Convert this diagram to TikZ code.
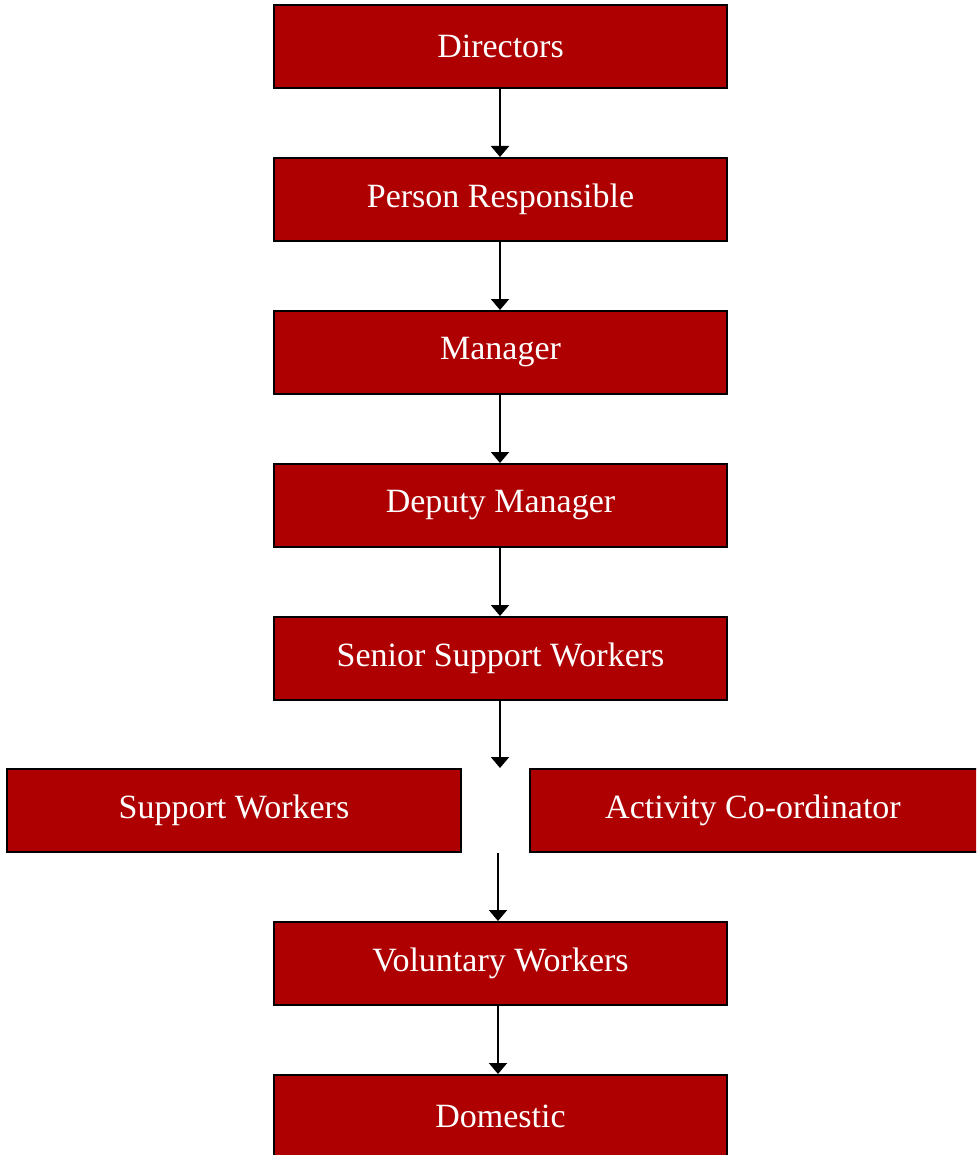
\documentclass[tikz,border=0pt]{standalone}
\usepackage{fontspec}
\setmainfont{Liberation Serif}
\usetikzlibrary{arrows.meta,positioning}
\definecolor{BoxRed}{HTML}{AE0000}

\begin{document}
\begin{tikzpicture}[x=1pt, y=-1pt,
    role/.style={draw=black, line width=2pt, fill=BoxRed, text=white, minimum width=453pt, minimum height=83pt, font=\fontsize{34}{40}\selectfont},
    link/.style={-{Triangle[length=11pt,width=18pt]}, line width=2pt}]
      \useasboundingbox (0,0) rectangle (976,1155);
      \clip (0,0) rectangle (976,1155);
      \node[role] (dir) at (500.5,46.5) {Directors};
      \node[role] (resp) at (500.5,199.5) {Person Responsible};
      \node[role] (mgr) at (500.5,352.5) {Manager};
      \node[role] (dep) at (500.5,505.5) {Deputy Manager};
      \node[role] (senior) at (500.5,658.5) {Senior Support Workers};
      \node[role, minimum width=454pt] (support) at (234,810.5) {Support Workers};
      \node[role, minimum width=454pt] (activity) at (757,810.5) {\hspace*{-8pt}Activity Co-ordinator};
      \node[role] (volun) at (500.5,963.5) {Voluntary Workers};
      \node[role] (domestic) at (500.5,1116.5) {Domestic};
      % gap between the two side boxes
      \coordinate (gapA) at (500,768);
      \coordinate (gapB) at (498,853);
      \draw[link] (dir.south -| gapA) -- (resp.north -| gapA);
      \draw[link] (resp.south -| gapA) -- (mgr.north -| gapA);
      \draw[link] (mgr.south -| gapA) -- (dep.north -| gapA);
      \draw[link] (dep.south -| gapA) -- (senior.north -| gapA);
      \draw[link] (senior.south -| gapA) -- (gapA);
      \draw[link] (gapB) -- (volun.north -| gapB);
      \draw[link] (volun.south -| gapB) -- (domestic.north -| gapB);
    \end{tikzpicture}
\end{document}
